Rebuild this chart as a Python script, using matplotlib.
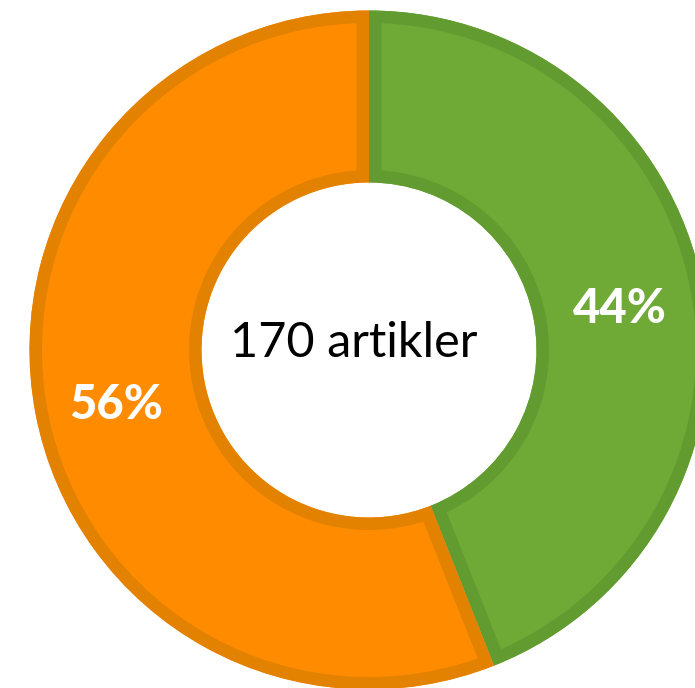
import matplotlib
matplotlib.use("Agg")
import matplotlib.pyplot as plt
from matplotlib.patches import Wedge

# data
labels = ["Green", "Orange"]
shares = [44, 56]
center_text = "170 artikler"

fill_colors = ["#6EAA35", "#FF8C00"]
edge_colors = ["#629C30", "#E38200"]

W, H = 695, 688
cx, cy = 369, 350          # pixel position of the donut centre (from top-left)
r_out, r_in = 339.5, 167.5
edge_px = 12.5

plt.rcParams['font.family'] = ['Lato', 'DejaVu Sans']

fig = plt.figure(figsize=(W / 100, H / 100), dpi=100)
ax = fig.add_axes([0, 0, 1, 1])

wedges, texts, autotexts = ax.pie(
    shares, colors=fill_colors, startangle=90, counterclock=False,
    radius=r_out, autopct='%1.0f%%', pctdistance=(r_out + r_in) / 2 / r_out,
    wedgeprops=dict(width=r_out - r_in, linewidth=0),
    textprops=dict(color='white', fontsize=34, fontweight='black'))

# inset border: double-width stroke clipped to the filled wedge
for w, ec in zip(wedges, edge_colors):
    b = Wedge(w.center, w.r, w.theta1, w.theta2, width=w.width,
              facecolor='none', edgecolor=ec, linewidth=2 * edge_px * 0.72,
              zorder=w.get_zorder() + 0.1)
    ax.add_patch(b)
    b.set_clip_path(w)

# nudge percentage labels a little
for t, dx in zip(autotexts, [2, -4]):
    x, y = t.get_position()
    t.set_position((x + dx, y - 7))

ax.text(-15, -7, center_text, ha='center', va='baseline', fontsize=35, color='black')

ax.set_xlim(-cx, W - cx)
ax.set_ylim(-(H - cy), cy)
ax.set_aspect('equal')
ax.axis('off')

fig.savefig("out.png", dpi=100)
